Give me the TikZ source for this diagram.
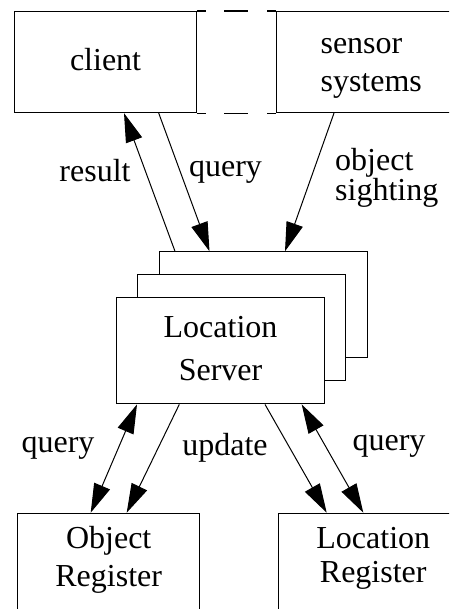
\documentclass[tikz,border=0pt]{standalone}
\usepackage{fontspec}
\setmainfont{Liberation Serif}
\usetikzlibrary{arrows.meta}

\begin{document}
\begin{tikzpicture}[x=1pt, y=-1pt,
  every node/.style={font=\fontsize{32}{38}\selectfont},
  box/.style={draw, line width=1.1pt, fill=white, inner sep=0pt, anchor=north west},
  stackbox/.style={box, minimum width=208pt, minimum height=106pt},
  lbl/.style={inner sep=0pt, anchor=base},
  head/.tip={Triangle[length=29pt, width=17pt]},
  arr/.style={line width=1pt, -head},
  darr/.style={line width=1pt, head-head},
  gap/.style={line width=1.1pt, dash pattern=on 9pt off 18pt on 24pt off 19pt}]

\useasboundingbox (0,0) rectangle (449,609);
\clip (0,0) rectangle (449,609);
\fill[white] (0,0) rectangle (449,609);

% top row: client and sensor systems
% (text height/depth are measured from the baseline of the last line)
\node[box, minimum width=182pt, text height=59pt, text depth=42pt] (client) at (14,11) {client};
\node[box, align=left, inner xsep=44.3pt, text height=79.7pt, text depth=21.3pt] (sensor) at (275.7,11) {sensor\\systems};
\draw[gap] (client.north east) -- (sensor.north west);
\draw[gap] (client.south east) -- (sensor.south west);

% stack of location servers
\node[stackbox] (lsback) at (158.7,251.3) {};
\node[stackbox] (lsmid) at (137.3,274.3) {};
\node[box, minimum width=208pt, align=center, text height=82.7pt, text depth=23.3pt] (lsfront) at (116,297.3) {Location\\[5.3pt]Server};

% registers
\node[box, minimum width=181.7pt, align=center, text height=73.6pt, text depth=60pt] (objreg) at (17.3,512.7) {Object\\Register};
\node[box, minimum width=190pt, align=center, text height=69pt, text depth=60pt] (locreg) at (277.7,512.7) {Location\\[-4.6pt]Register};

% client / sensors to server
\draw[arr] ([xshift=16.3pt]lsback.north west) -- ([xshift=110pt]client.south west);
\draw[arr] ([xshift=144.7pt]client.south west) -- ([xshift=50.8pt]lsback.north west);
\draw[arr] ([xshift=58.3pt]sensor.south west) -- ([xshift=126.3pt]lsback.north west);

% server to registers
\draw[darr] ([xshift=21pt]lsfront.south west) -- ([xshift=73.4pt]objreg.north west);
\draw[arr] ([xshift=63.3pt]lsfront.south west) -- ([xshift=109.4pt]objreg.north west);
\draw[arr] ([xshift=149pt]lsfront.south west) -- ([xshift=49pt]locreg.north west);
\draw[darr] ([xshift=185.7pt]lsfront.south west) -- ([xshift=85.6pt]locreg.north west);

% labels
\node[lbl] (lresult) at (95,182) {result};
\node[lbl] (lqtop) at (225.5,176.7) {query};
\node[lbl, anchor=base west, align=left] (lsight) at (335,200.7) {object\\[-8pt]sighting};
\node[lbl] (lqleft) at (58,452) {query};
\node[lbl] (lupdate) at (225,455) {update};
\node[lbl] (lqright) at (389,450) {query};
\end{tikzpicture}
\end{document}
